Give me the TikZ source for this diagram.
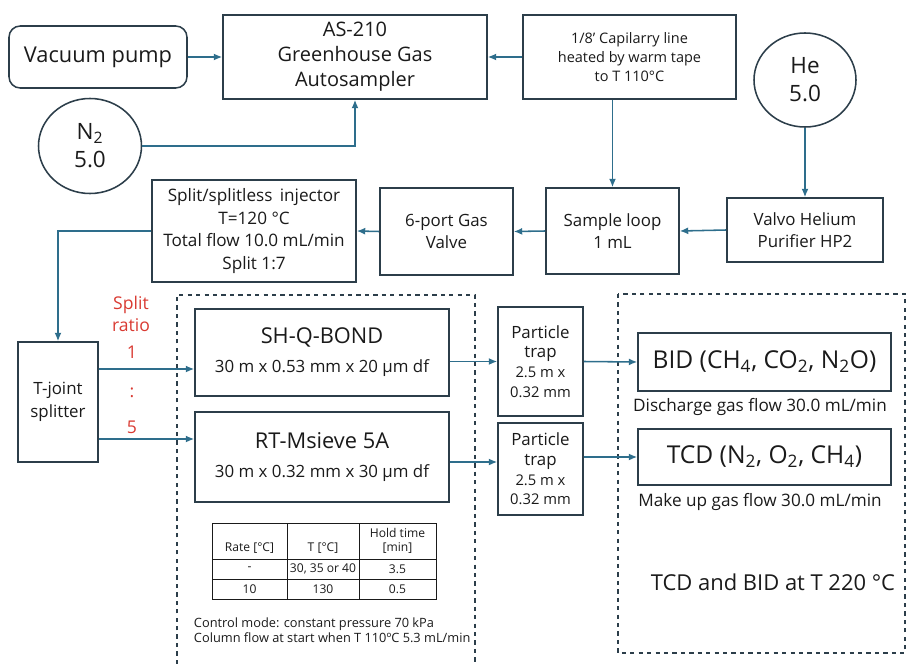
\documentclass[tikz,border=0pt]{standalone}
\usepackage{fontspec}
\setmainfont{Open Sans}
\usetikzlibrary{arrows.meta,positioning,calc,shapes.geometric}
\definecolor{gcFlow} {HTML}{2E6E8C}
\definecolor{gcEdge} {HTML}{2C3E4A}
\definecolor{gcInk}  {HTML}{1A1A1A}
\definecolor{gcRed}  {HTML}{D93A32}
\newcommand{\fs}[2]{\fontsize{#1}{#2}\selectfont}

\begin{document}
\begin{tikzpicture}[x=0.025cm,y=-0.025cm,
    box/.style={draw=gcEdge,line width=1.1pt,align=center,text=gcInk,inner sep=1pt},
    gas/.style={draw=gcEdge,line width=1.1pt,ellipse,align=center,text=gcInk,inner sep=0pt},
    flow/.style={draw=gcFlow,line width=1.1pt,-{Latex[length=6pt,width=5pt]}},
    frame/.style={draw=gcEdge,line width=0.9pt,dashed},
    ratio/.style={text=gcRed,font=\fs{12.5}{15}}]
  \useasboundingbox (0,0) rectangle (909,664);

  % top row
  \node[box,rounded corners=8pt,minimum width=178*0.025cm,minimum height=62*0.025cm,
        font=\fs{15.5}{18}] (vac) at (98,57) {Vacuum pump};
  \node[box,minimum width=264*0.025cm,minimum height=84*0.025cm,
        font=\fs{14.2}{17.8}] (as) at (355,57) {AS-210\\Greenhouse Gas\\Autosampler};
  \node[box,minimum width=213*0.025cm,minimum height=84*0.025cm,
        font=\fs{10.3}{13.8}] (cap) at (629.5,57)
        {1/8’ Capilarry line\\heated by warm tape\\to T 110°C};
  \node[gas,minimum width=103*0.025cm,minimum height=95*0.025cm,
        font=\fs{16}{20}] (n2) at (90,146) {N\textsubscript{2}\\5.0};
  \node[gas,minimum width=102*0.025cm,minimum height=94*0.025cm,
        font=\fs{16}{20}] (he) at (805,80) {He\\5.0};

  % second row
  \node[box,minimum width=204*0.025cm,minimum height=102*0.025cm,
        font=\fs{12.2}{16}] (inj) at (254,231)
        {Split/splitless\, injector\\T=120 °C\\Total flow 10.0 mL/min\\Split 1:7};
  \node[box,minimum width=133*0.025cm,minimum height=87*0.025cm,
        font=\fs{12}{16}] (six) at (446.5,231.5) {6-port Gas\\Valve};
  \node[box,minimum width=133*0.025cm,minimum height=86*0.025cm,
        font=\fs{12}{16}] (sl) at (612.5,231) {Sample loop\\1 mL};
  \node[box,minimum width=156*0.025cm,minimum height=64*0.025cm,
        font=\fs{12}{16}] (valvo) at (805,230) {Valvo Helium\\Purifier HP2};

  % columns and detectors
  \node[box,minimum width=80*0.025cm,minimum height=120*0.025cm,
        font=\fs{12}{16}] (tj) at (58,402) {T-joint\\splitter};
  \node[box,minimum width=254*0.025cm,minimum height=87*0.025cm,
        font=\fs{12}{20.5}] (shq) at (322,352.5)
        {{\fs{15.5}{20.5}SH-Q-BOND}\\30 m x 0.53 mm x 20 µm df};
  \node[box,minimum width=254*0.025cm,minimum height=90*0.025cm,
        font=\fs{12}{20.5}] (rt) at (322,457)
        {{\fs{15.5}{20.5}RT-Msieve 5A}\\30 m x 0.32 mm x 30 µm df};
  \node[box,minimum width=85*0.025cm,minimum height=109*0.025cm,
        font=\fs{10.5}{14}] (pt1) at (540.5,361.5)
        {{\fs{12}{16}Particle}\\{\fs{12}{16}trap}\\2.5 m x\\0.32 mm};
  \node[box,minimum width=85*0.025cm,minimum height=92*0.025cm,
        font=\fs{10.5}{14}] (pt2) at (540.5,469)
        {{\fs{12}{16}Particle}\\{\fs{12}{16}trap}\\2.5 m x\\0.32 mm};
  \node[box,minimum width=253*0.025cm,minimum height=58*0.025cm,
        font=\fs{17.5}{20}] (bid) at (764.5,362)
        {BID (CH\textsubscript{4}, CO\textsubscript{2}, N\textsubscript{2}O)};
  \node[box,minimum width=253*0.025cm,minimum height=56*0.025cm,
        font=\fs{17.5}{20}] (tcd) at (764.5,457)
        {TCD (N\textsubscript{2}, O\textsubscript{2}, CH\textsubscript{4})};
  \node[text=gcInk,font=\fs{12.2}{14}] (dis) at (760,407) {Discharge gas flow 30.0 mL/min};
  \node[text=gcInk,font=\fs{12.2}{14}] (mk) at (760,502) {Make up gas flow 30.0 mL/min};
  \node[text=gcInk,font=\fs{15.6}{18}] (det) at (773,582) {TCD and BID at T 220 °C};

  % split ratio
  \node[ratio,align=center,font=\fs{12.5}{16}] (sr) at (131,314) {Split\\ratio};
  \node[ratio] (r1) at (132,352) {1};
  \node[ratio] (rc) at (132,393) {:};
  \node[ratio] (r5) at (132,427) {5};

  % dashed frames
  \draw[frame] (177,664) -- (177,295) -- (475,295) -- (475,664);
  \draw[frame] (618,294) rectangle (905,653);

  % oven program table
  \draw[gcInk,line width=0.6pt] (212,523) rectangle (436,599);
  \draw[gcInk,line width=0.6pt] (212,559) -- (436,559) (212,579) -- (436,579);
  \foreach \cx in {287,359}
    \draw[gcInk,line width=0.6pt] (\cx,523) -- (\cx,599);
  \begin{scope}[every node/.style={text=gcInk,font=\fs{8.6}{10}}]
    \node (h1) at (249.5,548) {Rate [°C]};
    \node (h2) at (323,548) {T [°C]};
    \node (h3) at (397.5,533) {Hold time};
    \node (h4) at (397.5,548) {[min]};
    \node (a1) at (249.5,569) {-};
    \node (a2) at (323,569) {30, 35 or 40};
    \node (a3) at (397.5,569) {3.5};
    \node (b1) at (249.5,589) {10};
    \node (b2) at (323,589) {130};
    \node (b3) at (397.5,589) {0.5};
  \end{scope}
  \node[text=gcInk,font=\fs{9.1}{10.5},anchor=west,align=left] (ctl) at (189,630)
        {Control mode: constant pressure 70 kPa\\Column flow at start when T 110ºC 5.3 mL/min};

  % connectors
  \draw[flow] (vac.east) -- (as.west);
  \draw[flow] (cap.west) -- (as.east);
  \draw[flow] (n2.east) -| (as.south);
  \draw[flow] (cap.south -| sl.north) -- (sl.north);
  \draw[flow] (he.south) -- (valvo.north);
  \draw[flow] (valvo.west) -- (sl.east);
  \draw[flow] (sl.west) -- (six.east);
  \draw[flow] (six.west) -- (inj.east);
  \draw[flow] (inj.west) -| (tj.north);
  \draw[flow] ($(tj.east)+(0,-33)$) -- ($(shq.west)+(0,16.5)$);
  \draw[flow] ($(tj.east)+(0,37)$) -- ($(rt.west)+(0,-18)$);
  \draw[flow] (shq.east |- pt1.west) -- (pt1.west);
  \draw[flow] ($(rt.east)+(0,5)$) -- ($(pt2.west)+(0,-7)$);
  \draw[flow] (pt1.east) -- (bid.west);
  \draw[flow] (tcd.west -| pt2.east) -- (tcd.west);
\end{tikzpicture}
\end{document}
